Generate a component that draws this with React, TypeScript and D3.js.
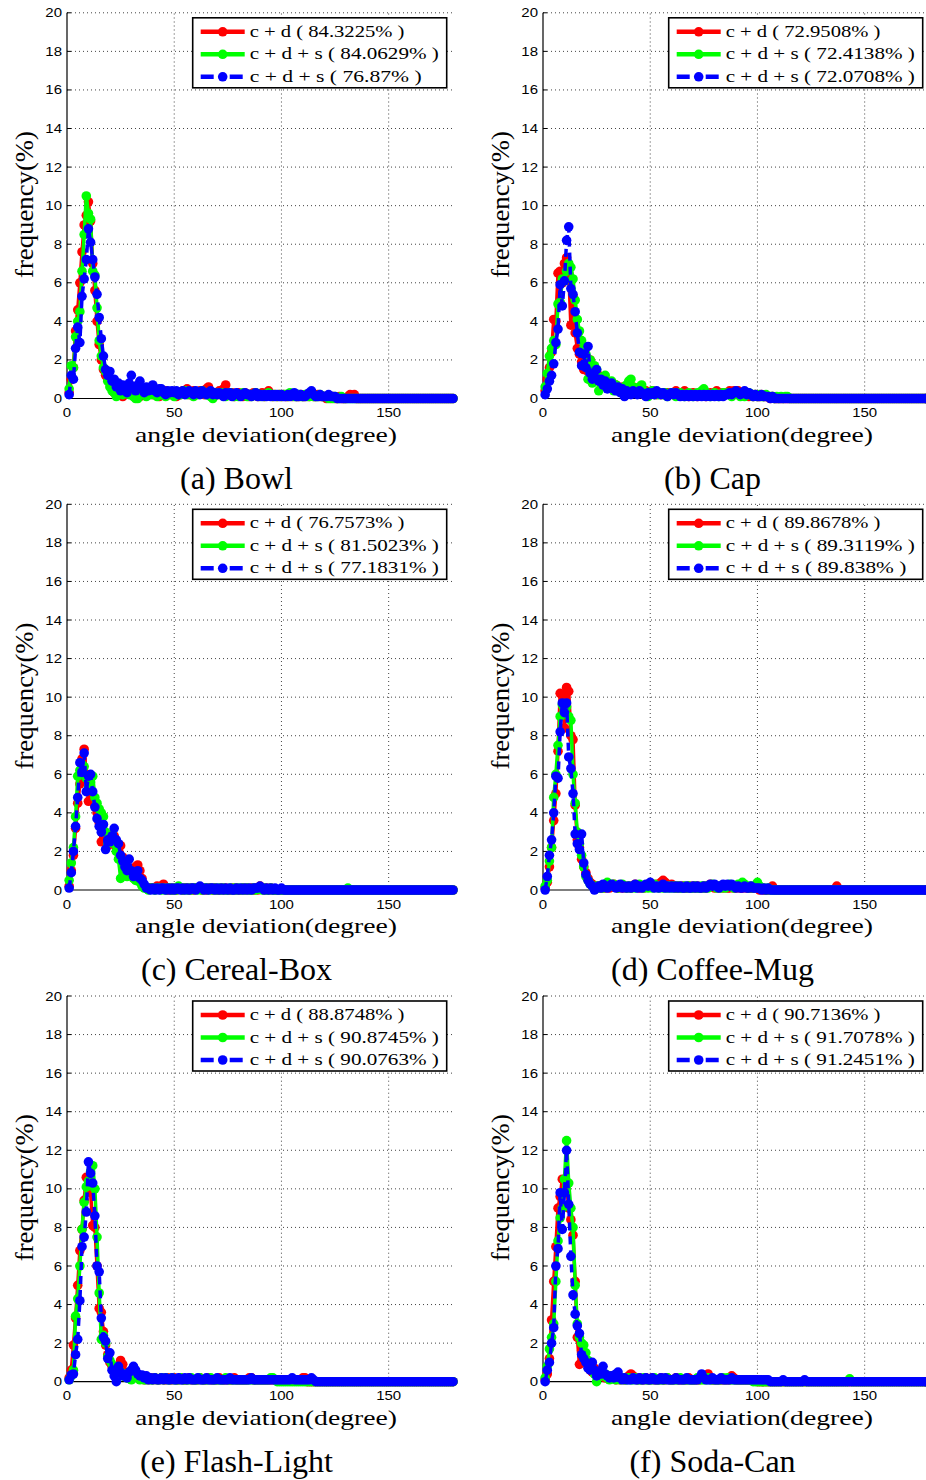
import React from 'react';
import * as d3 from 'd3';

// ---------- shared axis data ----------
const xTicks = [0, 50, 100, 150];
const yTicks = [0, 2, 4, 6, 8, 10, 12, 14, 16, 18, 20];
const gridX = [50, 100, 150];
const gridY = [2, 4, 6, 8, 10, 12, 14, 16, 18, 20];
const xLabel = 'angle deviation(degree)';
const yLabel = 'frequency(%)';
const seriesNames = ['c + d', 'c + d + s', 'c + d + s'];

// values for angle deviation 1..180 degrees (20 per row)
// (a) Bowl
const bowlCD = [
  0.3,1.0,1.6,3.5,4.6,6.0,7.6,9.0,9.5,10.2,9.2,7.0,5.6,4.0,2.8,2.0,1.5,1.2,1.0,0.8,
  0.6,0.3,0.5,0.2,0.4,0.1,0.6,0.3,0.5,0.4,0.2,0.3,0.5,0.1,0.3,0.4,0.2,0.3,0.4,0.2,
  0.3,0.4,0.1,0.3,0.2,0.4,0.3,0.2,0.3,0.2,0.1,0.3,0.2,0.4,0.3,0.5,0.2,0.3,0.4,0.2,
  0.3,0.4,0.3,0.2,0.5,0.6,0.3,0.2,0.3,0.2,0.4,0.3,0.5,0.7,0.3,0.2,0.3,0.1,0.2,0.3,
  0.2,0.1,0.3,0.2,0.1,0.2,0.3,0.2,0.1,0.2,0.3,0.1,0.2,0.4,0.2,0.1,0.2,0.1,0.2,0.1,
  0.2,0.1,0.1,0.2,0.1,0.2,0.1,0.1,0.2,0.1,0.1,0.2,0.1,0.2,0.1,0.1,0.2,0.1,0.1,0.1,
  0,0.1,0,0.1,0,0,0.1,0,0,0,0.1,0.2,0.1,0.2,0,0,0,0,0,0,
  0,0,0,0,0,0,0,0,0,0,0,0,0,0,0,0,0,0,0,0,
  0,0,0,0,0,0,0,0,0,0,0,0,0,0,0,0,0,0,0,0,
];
const bowlCDS = [
  0.5,1.7,1.6,3.2,4.0,4.5,6.6,8.5,10.5,9.6,9.3,6.6,6.4,4.7,3.0,2.2,1.6,1.4,0.9,0.6,
  0.4,0.3,0.1,0.5,0.3,0.2,0.4,0.3,0.2,0.3,0.1,0,0,0.2,0.4,0.3,0.1,0.3,0.2,0.3,
  0.2,0.1,0.3,0.2,0.3,0.1,0.2,0.3,0.2,0.1,0.2,0.3,0.2,0.3,0.4,0.2,0.3,0.2,0.1,0.3,
  0.2,0.3,0.4,0.3,0.2,0.3,0.1,0,0.2,0.3,0.2,0.3,0.2,0.1,0.2,0.3,0.2,0.1,0.2,0.1,
  0.2,0.3,0.2,0.1,0.2,0.1,0.2,0.3,0.2,0.1,0.2,0.1,0.2,0.3,0.2,0.1,0.2,0.1,0.2,0.1,
  0.2,0.2,0.1,0.3,0.2,0.1,0.1,0.2,0.1,0.1,0.2,0.1,0.1,0.2,0.1,0.1,0.1,0.2,0.1,0.1,
  0.1,0,0.1,0,0.1,0,0,0.1,0,0,0,0,0,0,0,0,0,0,0,0,
  0,0,0,0,0,0,0,0,0,0,0,0,0,0,0,0,0,0,0,0,
  0,0,0,0,0,0,0,0,0,0,0,0,0,0,0,0,0,0,0,0,
];
const bowlCDS2 = [
  0.2,1.2,1.0,2.6,3.7,2.9,5.3,6.2,7.2,8.8,8.1,7.2,6.3,5.4,4.2,3.1,2.2,1.5,1.2,1.4,
  0.9,1.0,0.6,0.8,0.4,0.7,0.5,0.3,0.8,1.2,0.6,0.4,0.7,0.9,0.5,0.3,0.6,0.4,0.5,0.7,
  0.4,0.3,0.5,0.5,0.3,0.2,0.4,0.3,0.4,0.3,0.4,0.2,0.3,0.4,0.2,0.3,0.4,0.3,0.2,0.4,
  0.3,0.2,0.4,0.3,0.2,0.3,0.4,0.2,0.3,0.2,0.3,0.2,0.1,0.3,0.2,0.3,0.1,0.2,0.3,0.2,
  0.1,0.2,0.3,0.2,0.2,0.1,0.2,0.3,0.1,0.2,0.1,0.2,0.1,0.2,0.1,0.2,0.1,0.2,0.1,0.2,
  0.1,0.1,0.2,0.1,0.2,0.3,0.1,0.1,0.2,0.1,0.1,0.2,0.3,0.4,0.2,0.1,0.1,0.2,0.1,0.1,
  0.1,0.2,0.1,0.1,0.1,0,0,0,0,0,0,0,0,0,0,0,0,0,0,0,
  0,0,0,0,0,0,0,0,0,0,0,0,0,0,0,0,0,0,0,0,
  0,0,0,0,0,0,0,0,0,0,0,0,0,0,0,0,0,0,0,0,
];
// (b) Cap
const capCD = [
  0.4,1.0,1.6,2.4,4.1,4.0,6.5,6.6,6.0,7.0,7.3,6.5,3.8,5.3,3.4,2.6,2.3,1.9,1.5,1.7,
  1.4,2.0,1.6,1.3,1.1,1.2,0.9,0.8,1.0,0.7,0.6,0.8,0.5,0.7,0.5,0.4,0.6,0.5,0.3,0.5,
  0.4,0.6,0.3,0.4,0.5,0.3,0.2,0.4,0.3,0.2,0.4,0.3,0.2,0.3,0.2,0.3,0.2,0.3,0.2,0.3,
  0.2,0.4,0.3,0.2,0.3,0.4,0.2,0.1,0.2,0.3,0.2,0.1,0.2,0.3,0.2,0.1,0.2,0.3,0.2,0.3,
  0.4,0.3,0.2,0.3,0.2,0.3,0.4,0.3,0.4,0.3,0.4,0.3,0.2,0.3,0.2,0.1,0.2,0.1,0.2,0.1,
  0.1,0.2,0.1,0.1,0.1,0,0.1,0,0,0,0,0,0,0,0,0,0,0,0,0,
  0,0,0,0,0,0,0,0,0,0,0,0,0,0,0,0,0,0,0,0,
  0,0,0,0,0,0,0,0,0,0,0,0,0,0,0,0,0,0,0,0,
  0,0,0,0,0,0,0,0,0,0,0,0,0,0,0,0,0,0,0,0,
];
const capCDS = [
  0.6,1.3,2.2,2.6,3.0,2.8,4.9,5.0,6.2,6.1,6.6,7.0,6.8,6.2,5.1,4.1,3.5,3.0,2.6,2.3,
  1.0,2.0,0.8,1.7,1.5,0.4,1.1,0.9,1.2,0.8,0.6,0.9,0.4,0.7,0.6,0.5,0.3,0.6,0.7,0.9,
  1.0,0.6,0.4,0.5,0.6,0.7,0.4,0.3,0.1,0.3,0.4,0.2,0.3,0.2,0.3,0.2,0.3,0.1,0.2,0.3,
  0.2,0.1,0.2,0.3,0.2,0.1,0.2,0.3,0.2,0.1,0.2,0.3,0.2,0.4,0.5,0.3,0.2,0.1,0.2,0.3,
  0.2,0.1,0.2,0.3,0.2,0.3,0.2,0.1,0.2,0.3,0.2,0.1,0.2,0.1,0.2,0.3,0.2,0.1,0.2,0.1,
  0.2,0.1,0.1,0.2,0.1,0.1,0.1,0,0.1,0,0.1,0,0.1,0.1,0,0,0,0,0,0,
  0,0,0,0,0,0,0,0,0,0,0,0,0,0,0,0,0,0,0,0,
  0,0,0,0,0,0,0,0,0,0,0,0,0,0,0,0,0,0,0,0,
  0,0,0,0,0,0,0,0,0,0,0,0,0,0,0,0,0,0,0,0,
];
const capCDS2 = [
  0.2,0.5,0.9,1.2,1.8,2.9,3.6,5.9,4.8,6.1,8.2,8.9,5.7,5.4,4.5,3.4,2.4,1.7,2.3,1.6,
  2.7,1.3,1.0,1.1,1.5,0.9,1.0,0.7,0.9,0.5,0.6,0.8,0.5,0.4,0.6,0.3,0.5,0.1,0.4,0.3,
  0.2,0.4,0.3,0.2,0.4,0.3,0.2,0.1,0.3,0.2,0.3,0.2,0.4,0.3,0.2,0.3,0.2,0.1,0.2,0.3,
  0.2,0.3,0.2,0.1,0.2,0.1,0.2,0.1,0.2,0.1,0.2,0.1,0.2,0.1,0.2,0.1,0.2,0.1,0.2,0.1,
  0.2,0.1,0.2,0.1,0.2,0.2,0.3,0.2,0.3,0.4,0.3,0.2,0.3,0.4,0.2,0.3,0.2,0.1,0.2,0.1,
  0.1,0.2,0.1,0.1,0.1,0,0.1,0,0,0,0,0,0,0,0,0,0,0,0,0,
  0,0,0,0,0,0,0,0,0,0,0,0,0,0,0,0,0,0,0,0,
  0,0,0,0,0,0,0,0,0,0,0,0,0,0,0,0,0,0,0,0,
  0,0,0,0,0,0,0,0,0,0,0,0,0,0,0,0,0,0,0,0,
];
// (c) Cereal-Box
const cerealCD = [
  0.2,1.0,1.8,3.2,4.5,5.5,6.8,7.3,6.0,4.6,5.0,4.8,4.4,4.0,3.5,2.5,3.0,2.8,2.3,2.6,
  2.4,2.8,2.2,2.0,2.3,1.7,1.4,1.0,0.8,0.9,1.1,1.2,1.3,1.0,0.6,0.2,0.1,0.1,0.1,0.1,
  0.1,0.2,0.1,0.2,0.3,0.1,0,0.1,0,0.1,0,0.1,0.1,0,0.1,0.1,0,0.1,0,0.1,
  0.1,0.1,0,0.1,0,0.1,0.1,0,0.1,0,0,0.1,0,0.1,0,0,0.1,0,0.1,0,
  0,0.1,0,0.1,0,0.1,0,0.1,0,0.2,0.1,0,0.1,0,0.1,0,0,0,0,0,
  0,0,0,0,0,0,0,0,0,0,0,0,0,0,0,0,0,0,0,0,
  0,0,0,0,0,0,0,0,0,0,0,0,0,0,0,0,0,0,0,0,
  0,0,0,0,0,0,0,0,0,0,0,0,0,0,0,0,0,0,0,0,
  0,0,0,0,0,0,0,0,0,0,0,0,0,0,0,0,0,0,0,0,
];
const cerealCDS = [
  0.5,1.4,2.2,3.8,5.9,6.2,6.5,6.4,5.8,5.3,5.6,5.9,4.8,4.5,4.2,4.0,3.8,3.0,2.4,2.6,
  2.9,2.4,2.0,1.6,0.6,1.2,0.9,0.7,1.0,0.8,0.6,0.5,0.6,0.4,0.2,0.1,0.1,0,0.1,0.1,
  0,0.1,0.1,0,0.1,0,0.1,0.1,0,0.1,0,0.2,0.1,0,0.1,0,0.1,0,0.1,0.1,
  0,0.1,0,0.1,0.1,0,0.1,0,0.1,0,0.1,0,0.1,0,0,0.1,0,0.1,0,0.1,
  0,0.1,0,0.1,0,0,0.1,0,0.1,0.1,0,0.1,0,0,0.1,0,0,0,0,0,
  0,0,0,0,0,0,0,0,0,0,0,0,0,0,0,0,0,0,0,0,
  0,0,0,0,0,0,0,0,0,0,0.1,0,0,0,0,0,0,0,0,0,
  0,0,0,0,0,0,0,0,0,0,0,0,0,0,0,0,0,0,0,0,
  0,0,0,0,0,0,0,0,0,0,0,0,0,0,0,0,0,0,0,0,
];
const cerealCDS2 = [
  0.1,0.9,2.0,3.3,4.8,6.6,6.1,7.1,5.1,5.9,6.0,5.1,4.3,3.7,3.3,3.0,3.4,2.1,2.6,2.5,
  2.8,3.2,2.6,2.4,1.8,1.5,1.2,1.0,1.6,1.0,0.7,0.9,1.0,0.6,0.5,0.3,0.1,0.1,0,0.1,
  0,0.1,0,0.1,0.1,0,0.1,0,0.1,0,0.1,0.1,0,0.1,0,0.1,0,0.1,0.1,0,
  0.1,0.2,0.1,0,0.1,0,0.1,0.1,0,0.1,0,0.1,0,0.1,0,0.1,0,0,0.1,0,
  0.1,0,0.1,0,0.1,0,0.1,0.1,0.1,0.2,0.1,0,0.1,0,0.1,0,0.1,0,0,0.1,
  0,0,0,0,0,0,0,0,0,0,0,0,0,0,0,0,0,0,0,0,
  0,0,0,0,0,0,0,0,0,0,0,0,0,0,0,0,0,0,0,0,
  0,0,0,0,0,0,0,0,0,0,0,0,0,0,0,0,0,0,0,0,
  0,0,0,0,0,0,0,0,0,0,0,0,0,0,0,0,0,0,0,0,
];
// (d) Coffee-Mug
const mugCD = [
  0.1,0.4,1.2,2.2,3.6,5.0,7.2,10.2,10.1,8.4,10.5,10.3,8.0,7.8,4.4,2.6,2.2,1.6,1.2,0.9,
  0.6,0.4,0.3,0.2,0.1,0.2,0.1,0.2,0.1,0.2,0.1,0.2,0.3,0.2,0.1,0.2,0.1,0.2,0.1,0.2,
  0.1,0.2,0.3,0.2,0.1,0.2,0.1,0.2,0.3,0.2,0.3,0.2,0.3,0.2,0.4,0.5,0.4,0.3,0.2,0.3,
  0.2,0.1,0.2,0.1,0.2,0.1,0.1,0.2,0.1,0.2,0.1,0.2,0.1,0.1,0.2,0.1,0.2,0.3,0.2,0.1,
  0.2,0.1,0.2,0.1,0.2,0.1,0.1,0.2,0.1,0.1,0.2,0.1,0.1,0.2,0.1,0.1,0.1,0.1,0.1,0.1,
  0,0.1,0,0,0,0.1,0.2,0,0,0,0,0,0,0,0,0,0,0,0,0,
  0,0,0,0,0,0,0,0,0,0,0,0,0,0,0,0,0.2,0,0,0,
  0,0,0,0,0,0,0,0,0,0,0,0,0,0,0,0,0,0,0,0,
  0,0,0,0,0,0,0,0,0,0,0,0,0,0,0,0,0,0,0,0,
];
const mugCDS = [
  0.2,0.5,1.5,2.2,4.8,6.0,7.5,9.0,9.6,9.4,9.5,9.0,8.8,6.0,4.5,3.0,2.4,1.8,1.2,0.7,
  0.5,0.3,0.2,0.1,0.2,0.1,0.2,0.1,0.3,0.4,0.3,0.2,0.3,0.2,0.1,0.2,0.3,0.2,0.1,0.2,
  0.1,0.2,0.1,0.2,0.3,0.2,0.1,0.2,0.1,0.2,0.1,0.3,0.2,0.1,0.2,0.1,0.2,0.1,0.2,0.1,
  0.2,0.1,0.2,0.1,0.1,0.2,0.1,0.2,0.1,0.1,0.2,0.1,0.1,0.2,0.1,0.2,0.1,0.2,0.3,0.2,
  0.1,0.2,0.1,0.2,0.1,0.2,0.3,0.2,0.1,0.2,0.3,0.2,0.4,0.3,0.2,0.1,0.2,0.1,0.2,0.4,
  0.2,0.1,0.1,0,0.1,0,0,0,0,0,0,0,0,0,0,0,0,0,0,0,
  0,0,0,0,0,0,0,0,0,0,0,0,0,0,0,0,0,0,0,0,
  0,0,0,0,0,0,0,0,0,0,0,0,0,0,0,0,0,0,0,0,
  0,0,0,0,0,0,0,0,0,0,0,0,0,0,0,0,0,0,0,0,
];
const mugCDS2 = [
  0,0.7,1.8,2.6,4.0,5.9,5.8,8.2,9.7,9.2,9.7,6.9,6.3,5.0,2.9,2.4,2.1,2.9,1.4,0.8,
  0.5,0.3,0.2,0,0.1,0.2,0.1,0.3,0.2,0.1,0.2,0.3,0.2,0.1,0.2,0.3,0.1,0.2,0.1,0.2,
  0.1,0.2,0.3,0.1,0.2,0.1,0.2,0.3,0.2,0.4,0.2,0.1,0.2,0.1,0.2,0.3,0.1,0.2,0.1,0.2,
  0.1,0.2,0.1,0.2,0.1,0.1,0.2,0.1,0.1,0.2,0.1,0.2,0.1,0.1,0.2,0.1,0.2,0.3,0.2,0.3,
  0.2,0.1,0.2,0.3,0.2,0.3,0.2,0.3,0.2,0.1,0.2,0.1,0.1,0.2,0.1,0.1,0.2,0.1,0.1,0.1,
  0.1,0,0.1,0,0.1,0,0,0,0,0,0,0,0,0,0,0,0,0,0,0,
  0,0,0,0,0,0,0,0,0,0,0,0,0,0,0,0,0,0,0,0,
  0,0,0,0,0,0,0,0,0,0,0,0,0,0,0,0,0,0,0,0,
  0,0,0,0,0,0,0,0,0,0,0,0,0,0,0,0,0,0,0,0,
];
// (e) Flash-Light
const flashCD = [
  0.2,0.6,1.9,3.3,5.0,6.8,7.9,9.4,10.6,10.2,9.8,8.1,8.0,6.0,3.8,3.6,2.6,1.9,1.4,1.0,
  0.8,0.6,0.4,0.7,1.1,0.9,0.5,0.4,0.3,0.5,0.3,0.4,0.2,0.3,0.2,0.1,0.2,0.1,0.2,0.1,
  0.2,0.1,0.1,0.2,0.1,0.1,0.2,0.1,0.1,0.2,0.1,0.1,0.2,0.1,0.1,0.1,0.2,0.1,0.1,0.1,
  0.1,0.2,0.1,0.1,0.1,0.2,0.1,0.1,0.1,0.1,0.2,0.1,0.1,0.1,0.1,0.1,0.1,0.2,0.1,0.1,
  0.1,0.1,0.1,0.1,0.2,0.2,0.1,0.1,0.1,0.1,0.1,0.1,0.1,0.1,0.1,0.1,0.1,0.1,0.1,0.1,
  0.1,0.1,0.1,0.1,0.1,0.1,0.1,0.1,0.1,0.2,0.2,0,0,0,0,0,0,0,0,0,
  0,0,0,0,0,0,0,0,0,0,0,0,0,0,0,0,0,0,0,0,
  0,0,0,0,0,0,0,0,0,0,0,0,0,0,0,0,0,0,0,0,
  0,0,0,0,0,0,0,0,0,0,0,0,0,0,0,0,0,0,0,0,
];
const flashCDS = [
  0.1,0.3,0.6,3.4,4.3,6.0,7.9,9.3,10.1,10.4,10.9,11.2,10.0,7.5,4.6,2.2,2.4,2.0,1.3,1.1,
  0.9,0.5,0.6,0.4,0.5,0.3,0.4,0.2,0.3,0.1,0.2,0.3,0.2,0.1,0.2,0.1,0.1,0.2,0.1,0.1,
  0.2,0.1,0.1,0.2,0.1,0.2,0.1,0.1,0.2,0.1,0.1,0.1,0.2,0.1,0.1,0.1,0.1,0.2,0.1,0.1,
  0.1,0.2,0.1,0.1,0.1,0.1,0.2,0.1,0.1,0.1,0.1,0.1,0.1,0.2,0.1,0.1,0.1,0.1,0.1,0.1,
  0.1,0.1,0.1,0.1,0.1,0.1,0.1,0.1,0.1,0.1,0.1,0.1,0.1,0.1,0.2,0.2,0.1,0,0,0,
  0,0,0,0,0,0,0,0,0,0,0,0,0,0,0,0,0,0,0,0,
  0,0,0,0,0,0,0,0,0,0,0,0,0,0,0,0,0,0,0,0,
  0,0,0,0,0,0,0,0,0,0,0,0,0,0,0,0,0,0,0,0,
  0,0,0,0,0,0,0,0,0,0,0,0,0,0,0,0,0,0,0,0,
];
const flashCDS2 = [
  0.1,0.35,0.4,1.4,2.2,4.2,7.0,7.5,8.8,11.4,10.8,10.3,8.6,6.0,5.7,3.3,2.3,2.1,1.2,1.5,
  0.6,0.3,0,0.8,0.5,0.3,0.3,0.2,0.5,0.6,0.8,0.6,0.4,0.3,0.35,0.2,0.3,0.1,0.2,0.1,
  0.2,0.1,0.1,0.2,0.1,0.2,0.1,0.1,0.2,0.1,0.1,0.2,0.1,0.1,0.2,0.1,0.2,0.1,0.1,0.1,
  0.2,0.1,0.1,0.1,0.2,0.1,0.1,0.1,0.1,0.2,0.1,0.1,0.1,0.1,0.1,0.2,0.1,0.1,0.1,0.1,
  0.1,0.1,0.1,0.1,0.1,0.2,0.1,0.1,0.1,0.1,0.1,0.1,0.1,0.1,0.1,0.1,0.1,0.1,0.1,0.1,
  0.1,0.1,0.1,0.1,0.2,0.1,0.1,0.1,0.1,0.1,0.1,0.1,0.1,0.2,0.1,0,0,0,0,0,
  0,0,0,0,0,0,0,0,0,0,0,0,0,0,0,0,0,0,0,0,
  0,0,0,0,0,0,0,0,0,0,0,0,0,0,0,0,0,0,0,0,
  0,0,0,0,0,0,0,0,0,0,0,0,0,0,0,0,0,0,0,0,
];
// (f) Soda-Can
const sodaCD = [
  0.1,0.4,1.2,3.2,5.2,7.0,9.0,9.6,10.5,10.0,10.2,9.0,8.4,7.6,5.2,2.3,0.9,1.6,1.3,1.0,
  0.8,0.6,0.5,0.7,0.4,0.3,0.5,0.3,0.2,0.3,0.2,0.3,0.2,0.1,0.2,0.1,0.2,0.1,0.2,0.3,
  0.4,0.3,0.2,0.1,0.2,0.1,0.1,0.2,0.1,0.1,0.2,0.1,0.1,0.1,0.2,0.1,0.1,0.2,0.1,0.1,
  0.1,0.2,0.1,0.1,0.1,0.1,0.1,0.2,0.1,0.1,0.1,0.1,0.1,0.2,0.2,0.3,0.4,0.2,0.1,0.1,
  0.1,0.1,0.1,0.1,0.1,0.1,0.1,0.3,0.2,0.1,0.1,0.1,0.1,0.1,0.1,0.1,0.1,0.1,0.1,0,
  0,0,0,0,0,0,0,0,0,0,0,0,0,0,0,0,0,0,0,0,
  0,0,0,0,0,0,0,0,0,0,0,0,0,0,0,0,0,0,0,0,
  0,0,0,0,0,0,0,0,0,0,0,0,0,0,0,0,0,0,0,0,
  0,0,0,0,0,0,0,0,0,0,0,0,0,0,0,0,0,0,0,0,
];
const sodaCDS = [
  0.2,0.8,1.7,2.3,3.0,5.2,7.3,8.5,9.0,10.5,12.5,10.3,9.0,8.0,5.0,3.0,2.3,2.0,1.9,1.5,
  1.1,0.8,0.6,0.4,0,0.3,0.5,0.3,0.4,0.2,0.1,0.3,0.2,0.1,0.2,0.1,0.2,0.1,0.1,0.2,
  0.1,0.1,0.2,0.1,0.1,0.1,0.2,0.1,0.1,0.1,0.1,0.2,0.1,0.1,0.1,0.1,0.1,0.2,0.1,0.1,
  0.1,0.1,0.1,0.2,0.1,0.1,0.1,0.1,0.1,0.1,0.1,0.2,0.1,0.1,0.1,0.1,0.2,0.1,0.1,0.1,
  0.1,0.1,0.1,0.2,0.1,0.2,0.1,0.1,0.1,0.1,0.1,0.1,0.1,0.1,0.1,0.1,0.1,0,0,0,
  0,0,0,0,0,0,0,0,0,0,0,0,0,0,0,0,0,0,0,0,
  0,0,0,0,0,0,0,0,0,0,0,0,0,0,0,0,0,0,0,0,
  0,0,0.15,0,0,0,0,0,0,0,0,0,0,0,0,0,0,0,0,0,
  0,0,0,0,0,0,0,0,0,0,0,0,0,0,0,0,0,0,0,0,
];
const sodaCDS2 = [
  0,0.6,1.0,2.0,2.8,6.0,6.9,9.8,7.9,9.8,12.0,9.2,6.5,4.5,3.5,2.9,2.5,1.4,1.2,1.0,
  0.7,0.6,1.0,0.6,0.3,0.5,0.4,0.8,0.4,0.3,0.2,0.3,0.2,0.4,0.5,0.2,0.1,0.2,0.1,0.1,
  0.1,0.2,0.1,0.1,0.2,0.1,0.1,0.2,0.1,0.1,0.2,0.1,0.1,0.1,0.2,0.1,0.2,0.1,0.1,0.1,
  0.1,0.2,0.1,0.1,0.1,0.1,0.2,0.1,0.1,0.1,0.1,0.1,0.2,0.4,0.2,0.1,0.1,0.1,0.2,0.1,
  0.1,0.1,0.2,0.1,0.1,0.1,0.1,0.2,0.1,0.1,0.1,0.1,0.1,0.1,0.1,0.1,0.1,0.1,0.1,0.1,
  0.1,0.1,0.1,0.1,0.1,0,0,0,0,0,0,0.1,0,0,0,0,0,0,0,0,
  0,0.1,0,0,0,0,0,0,0,0,0,0,0,0,0,0,0,0,0,0,
  0,0,0,0,0,0,0,0,0,0,0,0,0,0,0,0,0,0,0,0,
  0,0,0,0,0,0,0,0,0,0,0,0,0,0,0,0,0,0,0,0,
];

const captions = ['(a) Bowl', '(b) Cap', '(c) Cereal-Box', '(d) Coffee-Mug', '(e) Flash-Light', '(f) Soda-Can'];
const accuracies = [
  ['84.3225%', '84.0629%', '76.87%'],
  ['72.9508%', '72.4138%', '72.0708%'],
  ['76.7573%', '81.5023%', '77.1831%'],
  ['89.8678%', '89.3119%', '89.838%'],
  ['88.8748%', '90.8745%', '90.0763%'],
  ['90.7136%', '91.7078%', '91.2451%'],
];
const panelSeries = [
  [bowlCD, bowlCDS, bowlCDS2],
  [capCD, capCDS, capCDS2],
  [cerealCD, cerealCDS, cerealCDS2],
  [mugCD, mugCDS, mugCDS2],
  [flashCD, flashCDS, flashCDS2],
  [sodaCD, sodaCDS, sodaCDS2],
];

// ---------- styling ----------
const COLORS = ['#ff0000', '#00ff00', '#0000ff'];
const DASH = [null, null, '8,6'];
const COL_X = [67, 543];
const ROW_Y0 = [398.5, 890, 1381.7];
const PLOT_W = 386;
const PLOT_H = 385.7;
const SERIF = '"Liberation Serif", "Times New Roman", serif';
const SANS = '"Liberation Sans", Arial, Helvetica, sans-serif';

function Panel({ idx }: { idx: number }) {
  const col = idx % 2;
  const row = Math.floor(idx / 2);
  const x0 = COL_X[col];
  const y0 = ROW_Y0[row];
  const x = d3.scaleLinear().domain([0, 180]).range([x0, x0 + PLOT_W]);
  const y = d3.scaleLinear().domain([0, 20]).range([y0, y0 - PLOT_H]);
  const line = d3
    .line<number>()
    .x((_, i) => x(i + 1))
    .y((d) => y(d));
  const series = panelSeries[idx];
  const bx = x0 + 125.7;
  const by = y(20) + 5;
  const labels = seriesNames.map((n, i) => `${n} ( ${accuracies[idx][i]} )`);

  return (
    <g>
      {/* grid */}
      {gridY.map((v) => (
        <line key={'gy' + v} x1={x(0)} x2={x(180)} y1={y(v)} y2={y(v)} stroke="#444" strokeWidth={1} strokeDasharray="1,3" />
      ))}
      {gridX.map((v) => (
        <line key={'gx' + v} x1={x(v)} x2={x(v)} y1={y(0)} y2={y(20)} stroke="#444" strokeWidth={1} strokeDasharray="1,3" />
      ))}
      {/* axes */}
      <line x1={x(0)} x2={x(0)} y1={y(0)} y2={y(20)} stroke="#000" strokeWidth={1.2} />
      <line x1={x(0)} x2={x(180)} y1={y(0)} y2={y(0)} stroke="#000" strokeWidth={1.2} />
      {yTicks.map((v) => (
        <line key={'yt' + v} x1={x(0)} x2={x(0) + 4} y1={y(v)} y2={y(v)} stroke="#000" strokeWidth={1} />
      ))}
      {xTicks.map((v) => (
        <line key={'xt' + v} x1={x(v)} x2={x(v)} y1={y(0)} y2={y(0) - 4} stroke="#000" strokeWidth={1} />
      ))}
      {yTicks.map((v) => (
        <text key={'yl' + v} transform={`translate(${x(0) - 5},${y(v)}) scale(1.2,1)`} textAnchor="end" dy="0.36em" fontFamily={SANS} fontSize={12.5} fill="#000">
          {v}
        </text>
      ))}
      {xTicks.map((v) => (
        <text key={'xl' + v} transform={`translate(${x(v)},${y(0) + 18.5}) scale(1.2,1)`} textAnchor="middle" fontFamily={SANS} fontSize={12.5} fill="#000">
          {v}
        </text>
      ))}
      {/* data */}
      {series.map((s, si) => (
        <g key={'s' + si}>
          <path d={line(s) || ''} fill="none" stroke={COLORS[si]} strokeWidth={3.5} strokeDasharray={DASH[si] || undefined} strokeLinejoin="round" />
          {s.map((v, i) => (
            <circle key={i} cx={x(i + 1)} cy={y(v)} r={4.8} fill={COLORS[si]} />
          ))}
        </g>
      ))}
      {/* legend */}
      <rect x={bx} y={by} width={254} height={70} fill="#fff" stroke="#000" strokeWidth={1.6} />
      {labels.map((lab, i) => {
        const cy = by + 14 + i * 22.5;
        return (
          <g key={'lg' + i}>
            <line x1={bx + 8} x2={bx + 52} y1={cy} y2={cy} stroke={COLORS[i]} strokeWidth={4.5} strokeDasharray={i === 2 ? '13,16' : undefined} />
            <circle cx={bx + 30} cy={cy} r={4.8} fill={COLORS[i]} />
            <text x={bx + 57} y={cy + 5} fontFamily={SERIF} fontSize={16} fill="#000" textLength={lab.length * 8.6} lengthAdjust="spacingAndGlyphs">
              {lab}
            </text>
          </g>
        );
      })}
      {/* axis labels */}
      <text x={x0 + 199} y={y0 + 43} textAnchor="middle" fontFamily={SERIF} fontSize={22} fill="#000" textLength={262} lengthAdjust="spacingAndGlyphs">
        {xLabel}
      </text>
      <text transform={`translate(${x0 - 34},${y0 - 194}) rotate(-90)`} textAnchor="middle" fontFamily={SERIF} fontSize={25} fill="#000" textLength={147} lengthAdjust="spacingAndGlyphs">
        {yLabel}
      </text>
      {/* caption */}
      <text x={col === 0 ? 236.5 : 712.5} y={y0 + 90} textAnchor="middle" fontFamily={SERIF} fontSize={32} fill="#000">
        {captions[idx]}
      </text>
    </g>
  );
}

export default function App() {
  return (
    <svg width={926} height={1480} viewBox="0 0 926 1480" style={{ position: 'absolute', left: 0, top: 0, background: '#fff' }}>
      <rect x={0} y={0} width={926} height={1480} fill="#fff" />
      {[0, 1, 2, 3, 4, 5].map((i) => (
        <Panel key={i} idx={i} />
      ))}
    </svg>
  );
}
